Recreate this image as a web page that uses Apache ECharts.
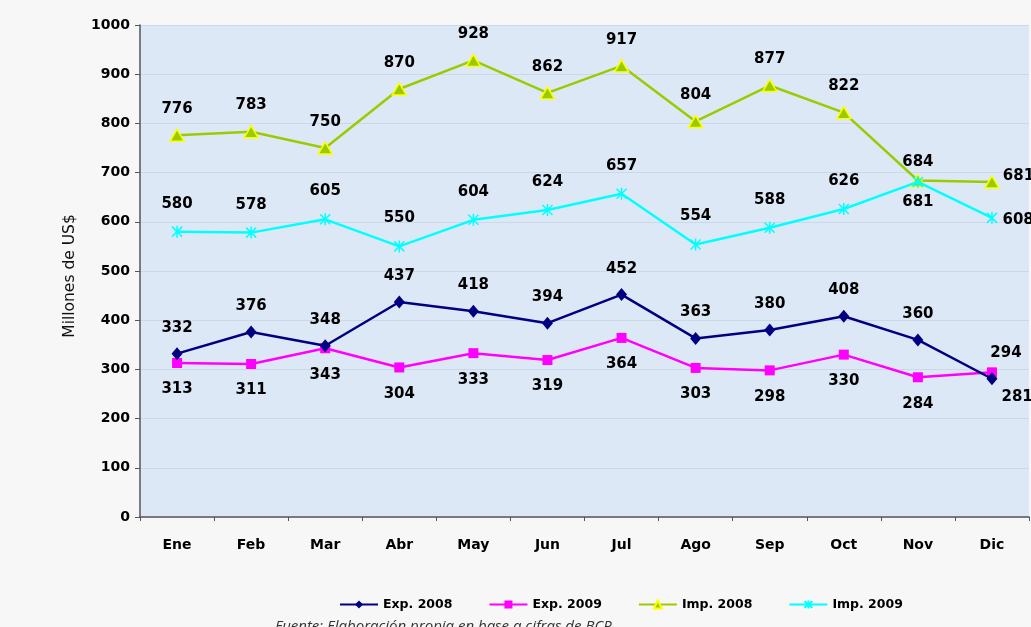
<!DOCTYPE html>
<html>
<head>
<meta charset="utf-8">
<title>Exportaciones e importaciones mensuales</title>
<script src="https://cdn.jsdelivr.net/npm/echarts@6/dist/echarts.min.js"></script>
<style>
  html, body { margin: 0; padding: 0; background: #f7f7f7; }
  #chart { width: 1031px; height: 627px; }
</style>
</head>
<body>
<div id="chart"></div>
<script>
// Months and monthly values, in millions of US$
var months = ['Ene', 'Feb', 'Mar', 'Abr', 'May', 'Jun', 'Jul', 'Ago', 'Sep', 'Oct', 'Nov', 'Dic'];
var exp2008 = [332, 376, 348, 437, 418, 394, 452, 363, 380, 408, 360, 281];
var exp2009 = [313, 311, 343, 304, 333, 319, 364, 303, 298, 330, 284, 294];
var imp2008 = [776, 783, 750, 870, 928, 862, 917, 804, 877, 822, 684, 681];
var imp2009 = [580, 578, 605, 550, 604, 624, 657, 554, 588, 626, 681, 608];
var seriesNames = ['Exp. 2008', 'Exp. 2009', 'Imp. 2008', 'Imp. 2009'];
var axisTitle = 'Millones de US$';
var sourceNote = 'Fuente: Elaboración propia en base a cifras de BCP';

var labelFont = { fontFamily: 'DejaVu Sans', fontWeight: 'bold', fontSize: 15, color: '#000' };

// Builds the data list for a series, applying label placement overrides by index
function withLabels(values, overrides) {
  return values.map(function (v, i) {
    if (overrides && overrides[i]) {
      return { value: v, label: overrides[i] };
    }
    return v;
  });
}

// Stroked asterisk marker for the 2009 imports line
var asterisk = 'path://M0,0 L10,10 M10,0 L0,10 M5,-1 L5,11';

var chart = echarts.init(document.getElementById('chart'), null, { renderer: 'canvas' });

chart.setOption({
  animation: false,
  backgroundColor: '#f7f7f7',
  grid: {
    left: 140, right: 2, top: 25, bottom: 110,
    show: true, backgroundColor: '#dde8f6', borderWidth: 0
  },
  legend: {
    data: seriesNames,
    left: 334, top: 593,
    itemWidth: 38, itemHeight: 10, itemGap: 36,
    textStyle: { fontFamily: 'DejaVu Sans', fontWeight: 'bold', fontSize: 12.5, color: '#000' }
  },
  xAxis: {
    type: 'category',
    data: months,
    boundaryGap: true,
    axisLine: { lineStyle: { color: '#555', width: 1.5 } },
    axisTick: { show: true, interval: 0, length: 4, lineStyle: { color: '#555' } },
    axisLabel: { margin: 21, interval: 0, fontFamily: 'DejaVu Sans', fontWeight: 'bold', fontSize: 14, color: '#000' }
  },
  yAxis: {
    type: 'value',
    min: 0, max: 1000, interval: 100,
    axisLine: { show: true, lineStyle: { color: '#555', width: 1.5 } },
    axisTick: { show: true, length: 5, lineStyle: { color: '#555' } },
    axisLabel: {
      margin: 10, fontFamily: 'DejaVu Sans', fontWeight: 'bold', fontSize: 14, color: '#000',
      formatter: function (v) { return String(v); }
    },
    splitLine: { show: true, lineStyle: { color: 'rgba(170,185,210,0.35)', width: 1 } }
  },
  graphic: [
    {
      type: 'text',
      x: 70, y: 276,
      rotation: Math.PI / 2,
      style: {
        text: axisTitle,
        fontFamily: 'DejaVu Sans', fontSize: 15.5, fill: '#111',
        textAlign: 'center', textVerticalAlign: 'middle'
      }
    },
    {
      type: 'text',
      left: 275, top: 619,
      style: {
        text: sourceNote,
        fontFamily: 'Open Sans', fontStyle: 'italic', fontSize: 15, fill: '#333'
      }
    }
  ],
  series: [
    {
      name: seriesNames[0],
      type: 'line',
      data: withLabels(exp2008, {
        11: { position: 'right', distance: 4, offset: [0, 18] }
      }),
      symbol: 'diamond', symbolSize: [11, 13],
      lineStyle: { color: '#000080', width: 2.5 },
      itemStyle: { color: '#000080' },
      label: Object.assign({ show: true, position: 'top', distance: 12 }, labelFont),
      z: 3
    },
    {
      name: seriesNames[1],
      type: 'line',
      data: withLabels(exp2009, {
        11: { position: 'top', distance: 7, offset: [14, 0] }
      }),
      symbol: 'rect', symbolSize: 10,
      lineStyle: { color: '#ff00ff', width: 2.5 },
      itemStyle: { color: '#ff00ff' },
      label: Object.assign({ show: true, position: 'bottom', distance: 14 }, labelFont),
      z: 2
    },
    {
      name: seriesNames[2],
      type: 'line',
      data: withLabels(imp2008, {
        10: { position: 'top', distance: 4 },
        11: { position: 'right', distance: 3, offset: [0, -6] }
      }),
      symbol: 'triangle', symbolSize: [14, 12],
      lineStyle: { color: '#99cc00', width: 2.5 },
      itemStyle: { color: '#99cc00', borderColor: '#ffff00', borderWidth: 1.5 },
      label: Object.assign({ show: true, position: 'top', distance: 12 }, labelFont),
      z: 2
    },
    {
      name: seriesNames[3],
      type: 'line',
      data: withLabels(imp2009, {
        10: { position: 'bottom', distance: 4 },
        11: { position: 'right', distance: 3, offset: [0, 2] }
      }),
      symbol: asterisk, symbolSize: 12, symbolKeepAspect: true,
      lineStyle: { color: '#00ffff', width: 2.5 },
      itemStyle: { color: 'none', borderColor: '#00ffff', borderWidth: 1.5 },
      label: Object.assign({ show: true, position: 'top', distance: 12 }, labelFont),
      z: 3
    }
  ]
});
</script>
</body>
</html>
